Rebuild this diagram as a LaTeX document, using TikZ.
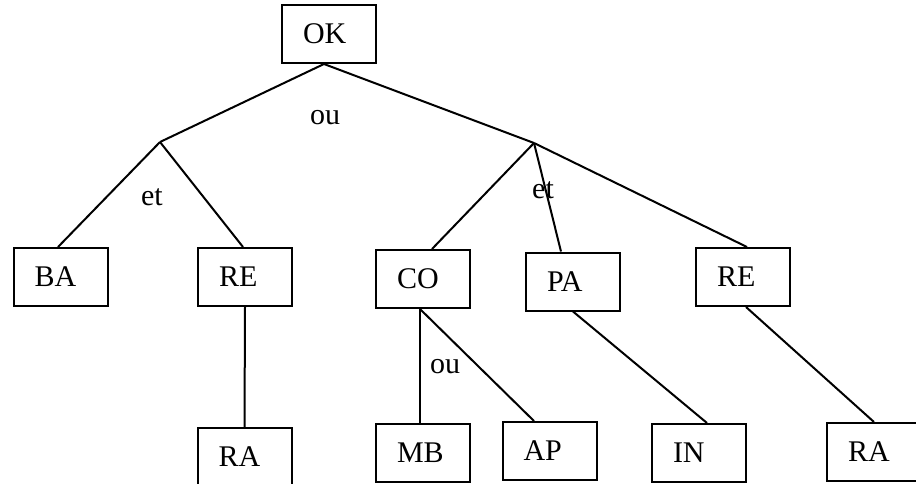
\documentclass[tikz,border=0pt]{standalone}
\usepackage{fontspec}
\setmainfont{Liberation Serif}
\usetikzlibrary{calc}
\begin{document}
\begin{tikzpicture}[x=0.5pt,y=-0.5pt,
  box/.style={draw,line width=1pt,rectangle,minimum width=47pt,minimum height=29pt,
    inner xsep=10.5pt,inner ysep=0pt,text width=26pt,align=left,
    font=\fontsize{15}{17}\selectfont},
  lbl/.style={inner sep=0pt,font=\fontsize{15}{17}\selectfont},
  link/.style={line width=1pt}]
\useasboundingbox (0,0) rectangle (916,483);
\clip (0,0) rectangle (916,483);
% boxes
\node[box] (ok)  at (329,34)    {OK};
\node[box] (ba)  at (60.5,277)  {BA};
\node[box] (re1) at (245,277)   {RE};
\node[box] (co)  at (423,279)   {CO};
\node[box] (pa)  at (573,281.5) {PA};
\node[box] (re2) at (743,277)   {RE};
\node[box] (ra1) at (244.5,457) {RA};
\node[box] (mb)  at (423,453)   {MB};
\node[box] (ap)  at (549.5,451) {AP};
\node[box] (in)  at (699,453)   {IN};
\node[box] (ra2) at (874,452)   {RA};
% branching points
\coordinate (jl) at (160,142);
\coordinate (jr) at (534,143);
% connectors
\draw[link] ($(ok.south)+(-5,0)$) -- (jl);
\draw[link] ($(ok.south)+(-5,0)$) -- (jr);
\draw[link] (jr) -- ($(re2.north)+(4,0)$);
\draw[link] (jl) -- ($(ba.north)+(-2.5,0)$);
\draw[link] (jl) -- ($(re1.north)+(-2,0)$);
\draw[link] (jr) -- ($(co.north)+(9,0)$);
\draw[link] (jr) -- ($(pa.north)+(-12,0)$);
\draw[link] (re1.south) -- (ra1.north);
\draw[link] ($(co.south)+(-3,0)$) -- ($(mb.north)+(-3,0)$);
\draw[link] ($(co.south)+(-3,0)$) -- ($(ap.north)+(-15.5,0)$);
\draw[link] (pa.south) -- ($(in.north)+(8,0)$);
\draw[link] ($(re2.south)+(3,0)$) -- (ra2.north);
% operator labels
\node[lbl] (ou1) at (325,118) {ou};
\node[lbl] (et1) at (152,197) {et};
\node[lbl] (et2) at (543,190) {et};
\node[lbl] (ou2) at (445,367) {ou};
\end{tikzpicture}
\end{document}
